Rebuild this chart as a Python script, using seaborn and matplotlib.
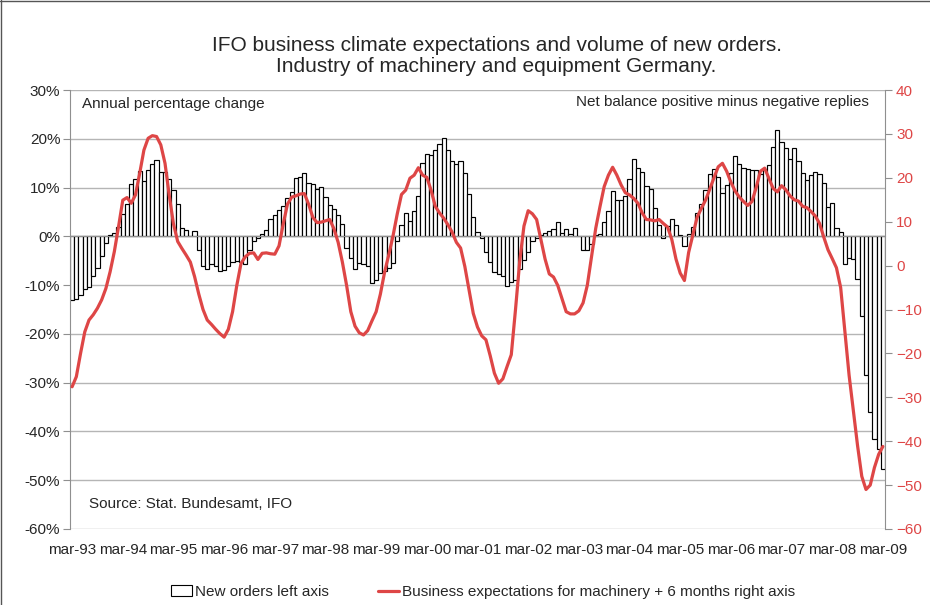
import numpy as np
import pandas as pd
import matplotlib
matplotlib.use('Agg')
import matplotlib.pyplot as plt
import seaborn as sns
from matplotlib.patches import Patch
from matplotlib.lines import Line2D

# New orders, annual % change, monthly mar-93 .. mar-09 (left axis)
orders = [
    -13.0, -12.8, -12.0, -10.8, -10.4, -8.2, -6.5, -4.0, -1.3, 0.2, 0.6, 2.0,
    4.5, 6.7, 10.8, 11.8, 13.4, 11.3, 13.7, 14.8, 15.6, 13.1, 13.1, 11.8,
    9.5, 6.7, 1.8, 1.2, 0.1, 1.1, -2.9, -6.1, -6.7, -5.7, -6.0, -7.2,
    -7.0, -6.0, -5.2, -5.0, -5.2, -5.6, -2.9, -0.9, -0.4, 0.4, 1.2, 3.5,
    4.4, 5.5, 6.2, 7.8, 9.1, 12.0, 12.2, 12.9, 11.0, 10.7, 9.8, 10.1,
    8.1, 6.5, 5.7, 4.4, 2.5, -2.4, -4.4, -6.7, -5.5, -5.7, -6.0, -9.6,
    -9.0, -7.6, -7.1, -6.5, -5.5, -0.9, 2.4, 4.8, 3.2, 5.2, 8.3, 15.1,
    16.9, 16.7, 17.8, 19.0, 20.2, 17.6, 15.4, 14.9, 15.4, 12.9, 8.6, 3.9,
    0.8, -0.4, -3.3, -5.2, -7.4, -7.7, -8.2, -10.1, -9.3, -8.9, -6.7, -4.8,
    -3.2, -1.0, -0.4, 0.3, 0.6, 1.0, 1.5, 3.0, 0.6, 1.6, 0.4, 1.8,
    0.1, -2.8, -2.7, -1.6, 0.2, 0.4, 2.9, 5.2, 9.3, 7.4, 7.4, 8.2,
    11.8, 15.9, 14.1, 13.2, 10.3, 9.7, 5.9, 2.3, -0.4, 2.2, 3.5, 2.3,
    0.3, -2.0, 0.5, 2.0, 4.7, 6.6, 9.5, 12.7, 13.9, 12.2, 8.9, 10.5,
    12.9, 16.4, 14.9, 14.0, 13.9, 13.7, 13.7, 12.7, 13.9, 14.7, 18.4, 21.7,
    19.3, 18.2, 15.9, 18.2, 15.4, 13.0, 11.6, 12.5, 13.2, 12.7, 11.0, 6.1,
    6.9, 1.8, 0.8, -5.6, -4.5, -4.7, -8.8, -16.4, -28.5, -36.0, -41.5, -43.5,
    -47.6,
]

# Business expectations, machinery, shifted +6 months (right axis)
expectations = [
    -27.6, -25.3, -20.0, -15.1, -12.4, -11.2, -9.7, -7.8, -5.2, -1.4, 3.2, 8.9,
    14.9, 15.5, 14.2, 16.1, 21.0, 26.3, 29.0, 29.6, 29.4, 27.5, 23.3, 16.0,
    9.5, 5.5, 3.9, 2.4, 0.8, -2.5, -6.5, -10.0, -12.4, -13.4, -14.5, -15.5,
    -16.3, -14.5, -10.5, -4.5, 0.5, 2.0, 2.8, 2.9, 1.4, 2.8, 2.9, 2.7,
    2.6, 4.5, 9.5, 14.0, 15.6, 15.9, 16.3, 16.4, 14.0, 11.0, 9.8, 9.9,
    10.2, 10.5, 8.4, 5.3, 0.8, -4.5, -10.5, -13.8, -15.3, -15.8, -14.8, -12.6,
    -10.5, -6.5, -1.5, 2.5, 6.8, 11.8, 16.2, 17.2, 19.9, 20.6, 22.3, 20.6,
    20.1, 17.2, 13.5, 12.0, 10.8, 9.3, 7.6, 5.3, 4.0, -0.2, -5.5, -10.9,
    -14.0, -16.0, -16.9, -20.5, -24.5, -26.8, -25.8, -23.0, -20.3, -10.0, 1.0, 9.0,
    12.5, 11.8, 10.5, 6.0, 1.5, -1.9, -2.6, -4.5, -7.5, -10.5, -11.0, -11.0,
    -10.3, -8.5, -4.5, 2.0, 8.5, 13.4, 18.0, 20.6, 22.4, 20.6, 18.4, 16.6,
    16.1, 15.3, 14.2, 12.0, 10.5, 10.4, 10.2, 10.5, 9.6, 8.8, 6.0, 1.5,
    -1.7, -3.4, 3.0, 7.0, 11.0, 13.0, 14.9, 17.4, 20.0, 22.5, 23.3, 21.5,
    19.0, 17.0, 15.6, 14.6, 13.7, 14.6, 17.8, 21.5, 22.2, 19.9, 17.6, 16.8,
    18.2, 17.3, 15.9, 15.0, 14.7, 13.5, 13.2, 12.3, 11.3, 9.6, 6.5, 3.6,
    1.6, -0.5, -5.0, -15.0, -25.0, -33.0, -41.0, -48.0, -51.0, -50.0, -46.0, -43.0,
    -41.2,
]

year_labels = ['mar-93', 'mar-94', 'mar-95', 'mar-96', 'mar-97', 'mar-98',
               'mar-99', 'mar-00', 'mar-01', 'mar-02', 'mar-03', 'mar-04',
               'mar-05', 'mar-06', 'mar-07', 'mar-08', 'mar-09']

df = pd.DataFrame({'month': np.arange(len(orders)),
                   'orders': orders,
                   'expectations': expectations})

sns.set_style('white')
plt.rcParams['font.family'] = ['Liberation Sans', 'DejaVu Sans']

red = '#de4646'
grid_c = '#b5b5b5'
spine_c = '#8f8f8f'

fig = plt.figure(figsize=(9.3, 6.05), dpi=100)
ax = fig.add_axes([70 / 930, 1 - 529 / 605, 815 / 930, 439 / 605])

# bars: new orders
sns.barplot(data=df, x='month', y='orders', color='white', edgecolor='black',
            linewidth=0.85, width=1.0, saturation=1, errorbar=None, ax=ax, zorder=2)
ax.set_ylim(-60, 30)
ax.set_yticks(np.arange(-60, 31, 10))
ax.set_yticklabels([f'{v}%' for v in range(-60, 31, 10)])
ax.yaxis.grid(True, color=grid_c, linewidth=1.0)
ax.set_axisbelow(True)
ax.set_xlim(-0.5, len(orders) - 0.5)
ax.set_xlabel('')
ax.set_ylabel('')

ax.spines['bottom'].set_position(('data', 0))
ax.spines['bottom'].set_color(spine_c)
ax.spines['left'].set_color(spine_c)
ax.spines['top'].set_visible(False)
ax.spines['right'].set_visible(False)
ax.set_xticks(np.arange(12, len(orders), 12) - 0.5)
ax.set_xticklabels([])
ax.tick_params(axis='x', direction='out', length=4, color=spine_c, width=0.8)
ax.tick_params(axis='y', direction='out', length=5, color=spine_c, width=0.8,
               labelsize=11, pad=2)

# labels along the bottom
sec = ax.secondary_xaxis('bottom')
sec.set_xticks(np.arange(0, len(orders), 12))
sec.set_xticklabels(year_labels)
sec.tick_params(length=0, labelsize=11, pad=10)
sec.spines['bottom'].set_visible(False)

# line: business expectations
ax2 = ax.twinx()
sns.lineplot(data=df, x='month', y='expectations', color=red, linewidth=2.3, ax=ax2)
ax2.set_ylim(-60, 40)
ax2.set_yticks(np.arange(-60, 41, 10))
ax2.set_ylabel('')
ax2.set_xlim(-0.5, len(orders) - 0.5)
for s in ['top', 'bottom', 'left']:
    ax2.spines[s].set_visible(False)
ax2.spines['right'].set_color(spine_c)
ax2.tick_params(axis='y', direction='out', length=5, color=spine_c, width=0.8,
                labelsize=11, labelcolor=red, pad=3)

ax.text(0.015, 0.968, 'Annual percentage change', transform=ax.transAxes,
        fontsize=11, va='center', ha='left')
ax.text(0.980, 0.973, 'Net balance positive minus negative replies',
        transform=ax.transAxes, fontsize=11, va='center', ha='right')
ax.text(0.023, 0.057, 'Source: Stat. Bundesamt, IFO', transform=ax.transAxes,
        fontsize=11, va='center', ha='left')

fig.text(0.534, 1 - 56 / 605,
         'IFO business climate expectations and volume of new orders.\n'
         'Industry of machinery and equipment Germany.',
         ha='center', va='center', fontsize=15, linespacing=1.15)

handles = [Patch(facecolor='white', edgecolor='black', linewidth=0.8),
           Line2D([0], [0], color=red, linewidth=2.3)]
fig.legend(handles, ['New orders left axis',
                     'Business expectations for machinery + 6 months right axis'],
           loc='center', bbox_to_anchor=(483 / 930, 1 - 592 / 605), ncol=2,
           frameon=False, fontsize=11, handlelength=1.4, handletextpad=0.2,
           columnspacing=3.2)

# outer frame of the chart
fig.add_artist(Line2D([0.5 / 930, 0.5 / 930], [0, 1], color='#555555', linewidth=1,
                      transform=fig.transFigure))
fig.add_artist(Line2D([0, 1], [1 - 0.5 / 605, 1 - 0.5 / 605], color='#555555',
                      linewidth=1, transform=fig.transFigure))

fig.savefig('out.png', dpi=100)
